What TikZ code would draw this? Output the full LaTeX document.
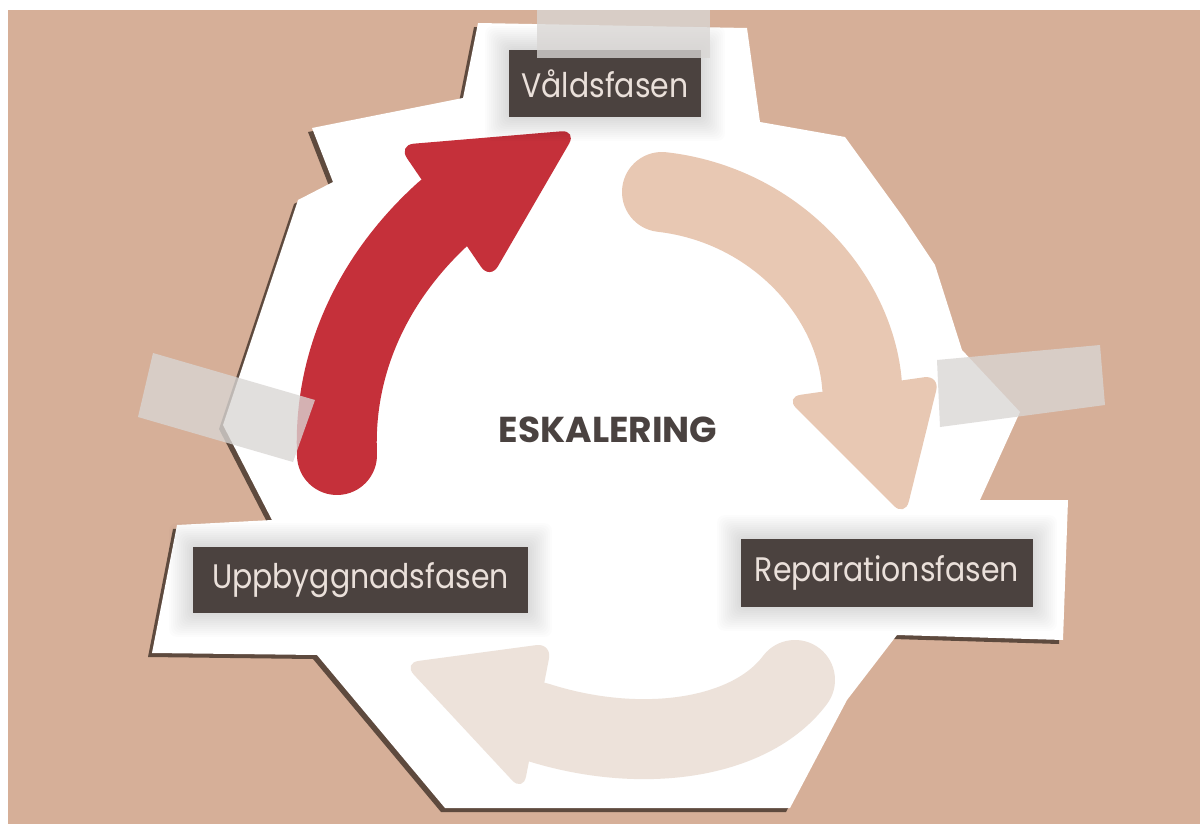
\documentclass[tikz,border=0pt]{standalone}
\usepackage{fontspec}
\newfontfamily\lblfont[FakeStretch=0.88]{Poppins}
\newfontfamily\eskfont{Poppins}
\definecolor{bg}{HTML}{D6AF98}
\definecolor{papershadow}{HTML}{5E4A3E}
\definecolor{boxc}{HTML}{4B423F}
\definecolor{boxtext}{HTML}{EAE0DA}
\definecolor{redc}{HTML}{C5303A}
\definecolor{peachc}{HTML}{E8C8B3}
\definecolor{lightc}{HTML}{EDE2DA}
\definecolor{tapec}{HTML}{D9D6D4}
\definecolor{eskc}{HTML}{4A4240}
\tikzset{
  phasebox/.style={fill=boxc, text=boxtext, inner sep=0pt, anchor=center,
    font=\lblfont\fontsize{34}{40}\selectfont},
  glowstep/.style={fill=black, fill opacity=0.012, rounded corners=8pt},
  tape/.style={fill=tapec, fill opacity=0.78},
  arrowbody/.style={line width=80pt, line cap=round},
  arrowhead/.style={rounded corners=16pt},
}
\newcommand\softglow[4]{%
  \foreach \k in {1,...,12} {
    \fill[glowstep] ({#1-2*\k},{#2-2*\k}) rectangle ({#3+2*\k},{#4+2*\k});
  }}
\def\paperpath{(478,23) -- (747,28) -- (760,122) -- (845,137) -- (903,217) -- (935,265) -- (962,350) -- (1020,412) -- (980,500) -- (1068,500) -- (1063,640) -- (897,635) -- (847,700) -- (790,808) -- (445,808) -- (317,655) -- (152,653) -- (177,525) -- (272,520) -- (223,425) -- (298,200) -- (333,182) -- (312,128) -- (463,98) -- cycle}
\begin{document}
\begin{tikzpicture}[x=1pt,y=-1pt]
\useasboundingbox (0,0) rectangle (1200,824);
\fill[bg] (0,0) rectangle (1200,824);
% paper with shadow
\fill[papershadow, xshift=-4pt, yshift=-4pt] \paperpath;
\fill[white] \paperpath;
% red arrow
\draw[redc, arrowbody] (337,455) .. controls (333,360) and (375,275) .. (445,212);
\fill[redc, arrowhead] (398,145) -- (577,130) -- (490,280) -- cycle;
% peach arrow
\draw[peachc, arrowbody] (662,192) .. controls (775,205) and (855,295) .. (862,385);
\fill[peachc, arrowhead] (785,397) -- (940,375) -- (905,517) -- cycle;
% light arrow
\draw[lightc, arrowbody] (537,722) .. controls (640,755) and (750,740) .. (795,680);
\fill[lightc, arrowhead] (552,643) -- (523,792) -- (403,663) -- cycle;
% soft glow round the boxes
\softglow{509}{50}{701}{117}
\softglow{193}{547}{528}{613}
\softglow{741}{539}{1033}{607}
% boxes
\node[phasebox, minimum width=192pt, minimum height=67pt] (vald) at (605,83.5) {Våldsfasen};
\node[phasebox, minimum width=335pt, minimum height=66pt] (upp) at (360.5,580) {Uppbyggnadsfasen};
\node[phasebox, minimum width=292pt, minimum height=68pt] (rep) at (887,573) {Reparationsfasen};
\node[text=eskc, font=\eskfont\bfseries\fontsize{36}{40}\selectfont] (esk) at (608,430) {ESKALERING};
% tapes
\fill[tape] (537,4) -- (710,4) -- (710,58) -- (537,58) -- cycle;
\fill[tape] (153,353) -- (315,400) -- (293,462) -- (138,417) -- cycle;
\fill[tape] (937,360) -- (1100,345) -- (1105,405) -- (940,427) -- cycle;
% white margins
\fill[white] (0,0) rectangle (1200,10);
\fill[white] (0,0) rectangle (8,824);
\end{tikzpicture}
\end{document}
